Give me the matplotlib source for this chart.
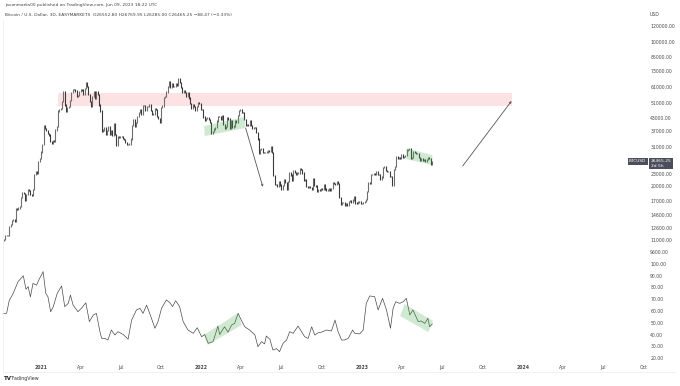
import matplotlib
matplotlib.use("Agg")
import matplotlib.pyplot as plt
import matplotlib.dates as mdates
from matplotlib.ticker import NullLocator, FixedLocator
import numpy as np
import pandas as pd

# ---------------- data ----------------
start_date = "2020-10-09"   # first 3D candle
closes = [
    11050, 11500, 11500, 11500, 12800, 13100, 13650, 13800,
    13550, 15600, 15480, 15700, 16000, 17600, 18650, 18400, 17100, 18200,
    19200, 19100, 18300, 18000, 19250, 22800, 23500, 23250, 26500, 27400,
    29400, 31900, 39300, 38300, 37300, 36000, 35500, 33000, 32300, 33400, 33100,
    37600, 39200, 46500, 47400, 47900, 51600, 57500, 49700, 46200,
    48400, 48900, 52300, 57300, 59000, 58900, 58100, 54500, 55000, 57700,
    59000, 58800, 56000, 59800, 63500, 61300, 55900, 51700, 49000, 54800,
    57800, 53200, 57400, 55800, 49700, 46400, 37000, 37500, 38400, 35700, 37300,
    39200, 35800, 37300, 35500, 40200, 35800, 31600, 34700, 34500, 35000,
    34800, 34200, 33900, 32700, 31800, 31800, 32100, 34000, 39500, 42200,
    39100, 40800, 43800, 45600, 47000, 44700, 49300, 49500, 46900, 48800,
    48800, 50000, 46800, 44900, 44900, 47700, 47300, 43500, 42700, 41000,
    48100, 49100, 53800, 54700, 57400, 60900, 64200, 60700, 63000, 61000, 61300,
    62900, 61500, 66900, 64100, 60300, 56900, 58600, 57100, 54700, 57000,
    53700, 50600, 47600, 50100, 48900, 46800, 48900, 50800, 50700, 47100,
    47300, 43400, 41700, 42700, 43100, 42200, 40700, 36300, 36800, 38000,
    38700, 41500, 43800, 43500, 42100, 44000, 40000, 38300, 39200, 43200,
    42500, 38400, 41900, 38800, 39300, 41800, 41000, 44000, 46800, 47100,
    45800, 45500, 42300, 39500, 39900, 39700, 41500, 39500, 38100, 38600,
    38500, 36500, 34000, 29000, 30100, 30400, 29200, 29100, 29200, 29400,
    29800, 29700, 31100, 29100, 22500, 20400, 20500, 20000, 21200, 20300,
    19300, 20200, 21600, 20800, 19300, 21200, 23400, 22700, 21300, 23800, 23300,
    22800, 23200, 23200, 24400, 24100, 23200, 21500, 21600, 20000, 19800,
    19900, 19800, 19300, 21800, 20200, 20100, 18900, 19300, 19200, 19400,
    19300, 20300, 19400, 19100, 19200, 19500, 19100, 19600, 20800, 20600,
    20500, 21100, 20600, 17600, 16300, 16700, 16700, 16200, 16500, 16200,
    16950, 17100, 16800, 17150, 17800, 16600, 16450, 16800, 16850, 16550, 16550,
    16700, 16950, 17200, 18900, 20900, 20700, 22800, 22900, 23100, 22800,
    23500, 22900, 22900, 21600, 22200, 24600, 24800, 23900, 23600,
    23600, 22400, 22400, 20200, 24200, 25000, 28000, 27300, 27500, 27200, 28500,
    27800, 28000, 28300, 30000, 30300, 30400, 27300, 27500, 29500, 29300,
    28900, 28900, 27700, 26800, 27200, 26800, 26900, 26300, 26900, 27700,
    27200, 25700, 26465.25,
]

rsi_dates = [
    "2020-10-07", "2020-10-15", "2020-10-21", "2020-10-30", "2020-11-10", "2020-11-22",
    "2020-11-28", "2020-12-03", "2020-12-08", "2020-12-14", "2020-12-22", "2020-12-28",
    "2021-01-06", "2021-01-12", "2021-01-17", "2021-01-23", "2021-01-29", "2021-02-07",
    "2021-02-17", "2021-02-24", "2021-03-04", "2021-03-09", "2021-03-15", "2021-03-21",
    "2021-03-26", "2021-04-03", "2021-04-13", "2021-04-21", "2021-04-30", "2021-05-07",
    "2021-05-15", "2021-05-19", "2021-05-26", "2021-06-02", "2021-06-10", "2021-06-18",
    "2021-06-25", "2021-07-07", "2021-07-18", "2021-07-26", "2021-08-06", "2021-08-14",
    "2021-08-21", "2021-08-29", "2021-09-05", "2021-09-17", "2021-09-24", "2021-10-02",
    "2021-10-13", "2021-10-21", "2021-10-27", "2021-11-03", "2021-11-12", "2021-11-20",
    "2021-12-01", "2021-12-13", "2021-12-22", "2022-01-01", "2022-01-08", "2022-01-16",
    "2022-01-27", "2022-02-02", "2022-02-07", "2022-02-11", "2022-02-22", "2022-03-02",
    "2022-03-10", "2022-03-17", "2022-03-25", "2022-04-01", "2022-04-09", "2022-04-20",
    "2022-05-02", "2022-05-09", "2022-05-17", "2022-05-24", "2022-05-28", "2022-06-05",
    "2022-06-12", "2022-06-20", "2022-06-27", "2022-07-05", "2022-07-13", "2022-07-20",
    "2022-07-28", "2022-08-08", "2022-08-16", "2022-08-23", "2022-08-31", "2022-09-08",
    "2022-09-15", "2022-09-23", "2022-09-30", "2022-10-12", "2022-10-23", "2022-10-31",
    "2022-11-07", "2022-11-15", "2022-11-22", "2022-11-30", "2022-12-10", "2022-12-15",
    "2022-12-26", "2023-01-03", "2023-01-10", "2023-01-18", "2023-01-29", "2023-02-06",
    "2023-02-16", "2023-02-25", "2023-03-06", "2023-03-12", "2023-03-18", "2023-03-27",
    "2023-04-04", "2023-04-11", "2023-04-19", "2023-04-26", "2023-05-08", "2023-05-15",
    "2023-05-23", "2023-05-30", "2023-06-03", "2023-06-09",
]
rsi_values = [
    58, 58, 69, 75, 85, 90,
    78.5, 80.7, 72, 83.5, 82, 87,
    93.5, 75, 72, 59.4, 63.7, 75,
    81.3, 63.7, 66.5, 73.6, 65, 62,
    59.4, 62.3, 67, 51, 56.6, 58,
    42.4, 36.7, 36.7, 35.3, 43.8, 39.6,
    42.4, 40, 36, 52.3, 60.9, 62.3,
    58, 65, 58, 45.3, 51, 62.3,
    69.4, 67, 63.7, 68.8, 63.7, 51,
    43.8, 41, 45.8, 38.1, 40, 32.5,
    33.9, 41, 47.2, 40, 46.6, 42,
    48, 49.5, 58, 52.3, 46.6, 43.8,
    39.6, 29.6, 33.9, 32, 38.7, 36,
    26.8, 28, 25.4, 32.5, 35.3, 42.4,
    41, 47.2, 42.4, 38.1, 36.7, 46.6,
    39.6, 41.5, 42, 43.8, 43, 52.3,
    42.4, 35.3, 35.3, 36.7, 43.8, 41,
    40.5, 43.8, 66.5, 72.8, 72.2, 60.9,
    70.8, 60.9, 45.3, 62.3, 67.9, 66.5,
    67.9, 70.8, 56.6, 60.9, 51, 51.5,
    49.5, 53.8, 46.6, 49,
]

price_ticks = [120000, 100000, 85000, 73000, 61000, 51000, 43000, 37000, 31000,
               23000, 20000, 17000, 14600, 12600, 11000, 9600]
rsi_ticks = [100, 90, 80, 70, 60, 50, 40, 30, 20]
time_ticks = ["2021-01-01", "2021-04-01", "2021-07-01", "2021-10-01",
              "2022-01-01", "2022-04-01", "2022-07-01", "2022-10-01",
              "2023-01-01", "2023-04-01", "2023-07-01", "2023-10-01",
              "2024-01-01", "2024-04-01", "2024-07-01", "2024-10-01"]
time_labels = ["2021", "Apr", "Jul", "Oct", "2022", "Apr", "Jul", "Oct",
               "2023", "Apr", "Jul", "Oct", "2024", "Apr", "Jul", "Oct"]

# drawings (date, value)
zone_dates = ["2021-02-08", "2023-12-06"]
zone_prices = [49100, 56800]
green_price1_dates = ["2022-01-08", "2022-01-07", "2022-04-08", "2022-04-10"]
green_price1_vals = [35100, 39300, 43400, 38400]
green_price2_dates = ["2023-04-11", "2023-04-11", "2023-06-09", "2023-06-09"]
green_price2_vals = [27100, 30600, 28400, 25400]
green_rsi1_dates = ["2022-01-15", "2022-01-06", "2022-03-25", "2022-04-02"]
green_rsi1_vals = [31.1, 39.6, 58.3, 48.1]
green_rsi2_dates = ["2023-03-28", "2023-04-07", "2023-06-11", "2023-05-31"]
green_rsi2_vals = [55.7, 66.0, 51.5, 42.1]
arrow1_dates = ["2022-04-11", "2022-05-20"]
arrow1_vals = [38400, 19900]
arrow2_dates = ["2023-08-17", "2023-12-06"]
arrow2_vals = [25100, 51900]
last_price = 26465.25

# ---------------- figure ----------------
W, H = 680, 386
fig = plt.figure(figsize=(W / 100, H / 100), dpi=100)
fig.patch.set_facecolor("white")

def box(x0, y0, x1, y1):
    return [x0 / W, 1 - y1 / H, (x1 - x0) / W, (y1 - y0) / H]

ax = fig.add_axes(box(0, 20, 648, 258))
axr = fig.add_axes(box(0, 260, 648, 362), sharex=ax)

dates = pd.date_range(start_date, periods=len(closes), freq="3D")
c = np.array(closes, dtype=float)
o = np.concatenate([[c[0] * 0.985], c[:-1]])
xd = mdates.date2num(dates)
up = c >= o
lo = np.minimum(o, c)
hi = np.maximum(o, c)
ax.vlines(xd[up], lo[up] * 0.993, hi[up] * 1.007, color="#6e6e6e", lw=0.8)
ax.vlines(xd[~up], lo[~up] * 0.993, hi[~up] * 1.007, color="#3a3a3a", lw=0.8)

ax.set_yscale("log")
ax.set_ylim(8980, 128400)
ax.set_xlim(mdates.datestr2num("2020-09-30"), mdates.datestr2num("2024-10-11"))

# pink zone
zd = mdates.datestr2num(zone_dates)
ax.fill_between(zd, zone_prices[0], zone_prices[1], color="#f23645", alpha=0.14, lw=0)

for dl, vl, a in [(green_price1_dates, green_price1_vals, ax),
                  (green_price2_dates, green_price2_vals, ax),
                  (green_rsi1_dates, green_rsi1_vals, axr),
                  (green_rsi2_dates, green_rsi2_vals, axr)]:
    a.fill(mdates.datestr2num(dl), vl, color="#4caf50", alpha=0.26, lw=0, zorder=3)

for dl, vl in [(arrow1_dates, arrow1_vals), (arrow2_dates, arrow2_vals)]:
    d = mdates.datestr2num(dl)
    ax.annotate("", xy=(d[1], vl[1]), xytext=(d[0], vl[0]),
                arrowprops=dict(arrowstyle="->", color="#555555", lw=0.6,
                                mutation_scale=3, shrinkA=0, shrinkB=0))

tick_col = "#4a4a4a"
fs = 3.3
ax.yaxis.tick_right()
ax.yaxis.set_major_locator(FixedLocator(price_ticks))
ax.yaxis.set_minor_locator(NullLocator())
ax.set_yticklabels([f"{v:.2f}" for v in price_ticks])
ax.tick_params(axis="y", length=0, pad=1.6, labelsize=fs, labelcolor=tick_col)
ax.tick_params(axis="x", length=0, labelbottom=False)

# RSI pane
axr.plot(mdates.datestr2num(rsi_dates), rsi_values, color="#4a4a4a", lw=0.5)
axr.set_ylim(16.6, 103.4)
axr.yaxis.tick_right()
axr.set_yticks(rsi_ticks)
axr.set_yticklabels([f"{v:.2f}" for v in rsi_ticks])
axr.tick_params(axis="y", length=0, pad=1.6, labelsize=fs, labelcolor=tick_col)
axr.set_xticks(mdates.datestr2num(time_ticks))
axr.set_xticklabels(time_labels)
axr.tick_params(axis="x", length=0, pad=2.0, labelsize=fs, labelcolor=tick_col)
for lab in axr.get_xticklabels():
    if lab.get_text().isdigit():
        lab.set_fontweight("bold")

for a in (ax, axr):
    for s in a.spines.values():
        s.set_visible(False)
    a.set_facecolor("none")

# thin frame lines
fig.add_artist(plt.Line2D([3 / W, 3 / W], [1 - 20 / H, 1 - 372 / H], color="#ececec", lw=0.5))
fig.add_artist(plt.Line2D([3 / W, 676 / W], [1 - 372 / H, 1 - 372 / H], color="#ececec", lw=0.5))

# last price labels
ax.annotate(f"{last_price:.2f}\n2d 5h", xy=(1, last_price), xycoords=("axes fraction", "data"),
            xytext=(2.0, 1.4), textcoords="offset points", ha="left", va="top",
            fontsize=3.2, color="white", linespacing=1.1,
            bbox=dict(boxstyle="square,pad=0.35", fc="#4b4f5b", ec="none"))
ax.annotate("BTCUSD", xy=(1, last_price), xycoords=("axes fraction", "data"),
            xytext=(-1.2, 0), textcoords="offset points", ha="right", va="center",
            fontsize=3.1, color="white",
            bbox=dict(boxstyle="square,pad=0.3", fc="#4b4f5b", ec="none"))

# header / footer texts
fig.text(650 / W, 1 - 15 / H, "USD", fontsize=fs, color=tick_col, va="center")
fig.text(5 / W, 1 - 5 / H, "javonmarks00 published on TradingView.com, Jun 09, 2023 18:22 UTC",
         fontsize=3.2, color="#444444", va="center")
fig.text(5 / W, 1 - 15.5 / H,
         "Bitcoin / U.S. Dollar, 3D, EASYMARKETS  O26552.80 H26769.95 L26285.00 C26465.25 \u221288.47 (\u22120.33%)",
         fontsize=3.2, color="#444444", va="center")
fig.text(4 / W, 1 - 378.5 / H, "TV", fontsize=4.0, color="#222222", va="center", fontweight="bold")
fig.text(11 / W, 1 - 378.5 / H, "TradingView", fontsize=3.4, color="#333333", va="center")

fig.savefig("out.png", dpi=100, facecolor="white")
